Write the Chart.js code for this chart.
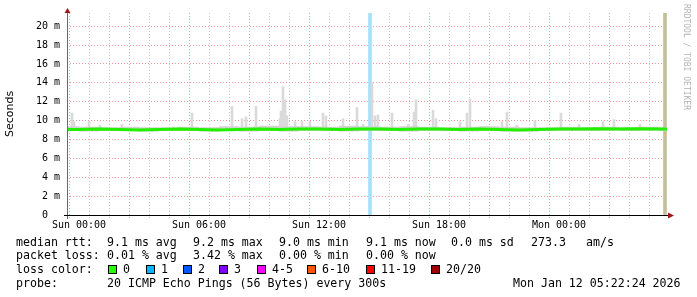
<!DOCTYPE html>
<html>
<head>
<meta charset="utf-8">
<script src="https://cdn.jsdelivr.net/npm/chart.js@4"></script>
<style>
  body { margin: 0; background: #fff; }
  #wrap { position: relative; width: 697px; height: 297px; overflow: hidden; }
  canvas { position: absolute; left: 0; top: 0; }
  .t { position: absolute; font-family: "DejaVu Sans Mono", monospace; font-size: 11.6px; line-height: 14px; white-space: pre; color: #000; }
  .sw { position: absolute; width: 9px; height: 9px; box-sizing: border-box; border: 1px solid #000; }
  #wm { position: absolute; left: 682px; top: 4px; writing-mode: vertical-rl; font-family: "DejaVu Sans Mono", monospace; font-size: 8px; color: #b4b4b4; white-space: pre; }
</style>
</head>
<body>
<div id="wrap">
  <canvas id="smokeChart" width="697" height="297"></canvas>
  <div id="wm">RRDTOOL / TOBI OETIKER</div>

  <div class="t" style="left:16px;top:235px">median rtt:</div>
  <div class="t" style="left:107px;top:235px">9.1 ms avg</div>
  <div class="t" style="left:193px;top:235px">9.2 ms max</div>
  <div class="t" style="left:279px;top:235px">9.0 ms min</div>
  <div class="t" style="left:366px;top:235px">9.1 ms now</div>
  <div class="t" style="left:451px;top:235px">0.0 ms sd</div>
  <div class="t" style="left:531px;top:235px">273.3</div>
  <div class="t" style="left:586px;top:235px">am/s</div>

  <div class="t" style="left:16px;top:248px">packet loss:</div>
  <div class="t" style="left:107px;top:248px">0.01 % avg</div>
  <div class="t" style="left:193px;top:248px">3.42 % max</div>
  <div class="t" style="left:279px;top:248px">0.00 % min</div>
  <div class="t" style="left:366px;top:248px">0.00 % now</div>

  <div class="t" style="left:16px;top:262px">loss color:</div>
  <div id="lossLegend"></div>

  <div class="t" style="left:16px;top:276px">probe:</div>
  <div class="t" style="left:107px;top:276px">20 ICMP Echo Pings (56 Bytes) every 300s</div>
  <div class="t" style="left:513px;top:276px">Mon Jan 12 05:22:24 2026</div>
</div>
<script>
// time axis: hours since Sun 00:00
const tickHours = [0, 6, 12, 18, 24];
const tickLabels = ["Sun 00:00", "Sun 06:00", "Sun 12:00", "Sun 18:00", "Mon 00:00"];

const hours = [-1, 0, 1, 2, 3, 4, 5, 6, 7, 8, 9, 10, 11, 12, 13, 14, 15, 16, 17, 18, 19, 20, 21, 22, 23, 24, 25, 26, 27, 28, 29, 30];
const medianRtt = [9.05, 9.05, 9.1, 9.05, 9.0, 9.05, 9.1, 9.05, 9.0, 9.05, 9.1, 9.05, 9.1, 9.1, 9.05, 9.1,
                   9.1, 9.05, 9.1, 9.1, 9.05, 9.1, 9.05, 9.0, 9.05, 9.1, 9.1, 9.15, 9.1, 9.15, 9.1, 9.1];
const smokeLow = [8.9, 8.85, 8.9, 8.9, 8.85, 8.9, 8.9, 8.85, 8.9, 8.85, 8.9, 8.85, 8.9, 8.9, 8.85, 8.9,
                  8.9, 8.85, 8.9, 8.9, 8.85, 8.9, 8.85, 8.85, 8.9, 8.9, 8.9, 8.95, 8.9, 8.95, 8.9, 8.9];
const smokeHigh = [9.4, 9.35, 9.3, 9.35, 9.3, 9.3, 9.35, 9.3, 9.4, 9.35, 9.45, 9.4, 9.4, 9.35, 9.45, 9.4,
                   9.35, 9.4, 9.35, 9.3, 9.35, 9.4, 9.35, 9.3, 9.3, 9.35, 9.3, 9.35, 9.3, 9.35, 9.3, 9.3];

// individual smoke spikes (single pings well above the median)
const spikeBase = 8.95;
const spikeHours = [-0.35, -0.25, 0.5, 1.05, 2.15, 5.65, 7.65, 8.15, 8.35, 8.85, 10.05, 10.1, 10.2, 10.3, 10.4,
                    10.8, 11.15, 11.55, 12.2, 12.35, 13.2, 13.9, 14.2, 14.65, 14.8, 14.95, 15.65, 16.45, 16.75,
                    16.85, 17.7, 17.85, 19.05, 19.4, 19.55, 21.15, 21.4, 21.9, 22.8, 24.1, 25.0, 26.2, 26.75, 28.05];
const spikeTops = [10.8, 9.9, 9.9, 9.5, 9.6, 10.8, 11.5, 10.2, 10.4, 11.5, 10.2, 11.0, 13.6, 12.2, 10.5,
                   9.9, 9.9, 9.9, 10.8, 10.5, 10.2, 11.4, 9.6, 14.0, 10.5, 10.6, 10.8, 9.6, 10.9,
                   12.2, 11.1, 10.2, 9.9, 10.8, 12.3, 9.9, 10.9, 9.5, 10.0, 10.8, 9.6, 9.9, 10.1, 9.6];

const lossHours = [14.55];
const nowHour = 29.3;
const yMax = 21.4;

const lossLabels = ["0", "1", "2", "3", "4-5", "6-10", "11-19", "20/20"];
const lossColors = ["#26ff00", "#00b8ff", "#0059ff", "#7e00ff", "#ff00ff", "#ff5500", "#ff0000", "#a10000"];
const lossSwatchX = [108, 146, 183, 219, 257, 307, 366, 431];

const legendBox = document.getElementById("lossLegend");
lossLabels.forEach((lab, i) => {
    const sw = document.createElement("div");
    sw.className = "sw";
    sw.style.left = lossSwatchX[i] + "px";
    sw.style.top = "265px";
    sw.style.background = lossColors[i];
    legendBox.appendChild(sw);
    const tx = document.createElement("div");
    tx.className = "t";
    tx.style.left = (lossSwatchX[i] + 15) + "px";
    tx.style.top = "262px";
    tx.textContent = lab;
    legendBox.appendChild(tx);
});

const monoFont = { family: "DejaVu Sans Mono", size: 10 };
const majorGrid = "#ee9a9a";
const minorGrid = "#c8c8c8";

const axisLines = {
    id: "axisLines",
    afterDraw(chart) {
        const { ctx, chartArea: a } = chart;
        ctx.save();
        ctx.lineWidth = 1;
        ctx.strokeStyle = "#6a6a6a";
        ctx.beginPath();
        ctx.moveTo(a.left + 0.5, a.top - 1);
        ctx.lineTo(a.left + 0.5, a.bottom + 4);
        ctx.stroke();
        ctx.strokeStyle = "#000";
        ctx.beginPath();
        ctx.moveTo(a.left - 3, a.bottom + 0.5);
        ctx.lineTo(a.right + 1, a.bottom + 0.5);
        ctx.stroke();
        ctx.fillStyle = "#9a1a1a";
        ctx.beginPath();
        ctx.moveTo(a.left + 0.5, a.top - 5);
        ctx.lineTo(a.left - 2.5, a.top);
        ctx.lineTo(a.left + 3.5, a.top);
        ctx.closePath();
        ctx.fill();
        ctx.beginPath();
        ctx.moveTo(a.right + 7, a.bottom + 0.5);
        ctx.lineTo(a.right + 1, a.bottom - 2.5);
        ctx.lineTo(a.right + 1, a.bottom + 3.5);
        ctx.closePath();
        ctx.fill();
        ctx.restore();
    },
};

new Chart(document.getElementById("smokeChart"), {
    type: "bar",
    data: {
        datasets: [
            {
                type: "bar",
                data: lossHours.map((h) => ({ x: h, y: [0, yMax] })),
                backgroundColor: "#a6e0fa",
                barThickness: 3,
                grouped: false,
                order: 6,
            },
            {
                type: "bar",
                data: [{ x: nowHour, y: [0, yMax] }],
                backgroundColor: "#c4c09c",
                barThickness: 3,
                grouped: false,
                order: 6,
            },
            {
                type: "bar",
                data: spikeHours.map((h, i) => ({ x: h, y: [spikeBase, spikeTops[i]] })),
                backgroundColor: "#dadada",
                barThickness: 2,
                grouped: false,
                order: 5,
            },
            {
                type: "line",
                data: hours.map((h, i) => ({ x: h, y: smokeLow[i] })),
                borderWidth: 0,
                pointRadius: 0,
                stepped: true,
                fill: false,
                order: 4,
            },
            {
                type: "line",
                data: hours.map((h, i) => ({ x: h, y: smokeHigh[i] })),
                borderWidth: 0,
                pointRadius: 0,
                stepped: true,
                fill: "-1",
                backgroundColor: "#d2d2d2",
                order: 4,
            },
            {
                type: "line",
                data: hours.map((h, i) => ({ x: h, y: medianRtt[i] })),
                borderColor: "#22f000",
                borderWidth: 3,
                pointRadius: 0,
                tension: 0,
                order: 1,
            },
        ],
    },
    options: {
        responsive: false,
        animation: false,
        layout: { padding: { top: 13, right: 30, left: 0, bottom: 0 } },
        plugins: { legend: { display: false }, tooltip: { enabled: false } },
        scales: {
            x: {
                type: "linear",
                min: -0.6,
                max: 29.4,
                offset: false,
                afterFit(s) { s.height = 82; },
                afterBuildTicks(s) {
                    const t = [];
                    for (let h = 0; h <= 29; h++) t.push({ value: h });
                    s.ticks = t;
                },
                ticks: {
                    autoSkip: false,
                    maxRotation: 0,
                    padding: 0,
                    color: "#000",
                    font: monoFont,
                    callback: (v) => {
                        const i = tickHours.indexOf(v);
                        return i >= 0 ? tickLabels[i] : "";
                    },
                },
                grid: {
                    color: (c) => (c.tick && c.tick.value % 3 === 0 ? majorGrid : minorGrid),
                    tickColor: (c) => (c.tick && c.tick.value % 3 === 0 ? majorGrid : minorGrid),
                    tickLength: 4,
                    tickBorderDash: [1, 1],
                },
                border: { display: false, dash: [1, 2] },
            },
            y: {
                min: 0,
                max: yMax,
                afterFit(s) { s.width = 67; },
                afterBuildTicks(s) {
                    const t = [];
                    for (let v = 0; v <= 21; v++) t.push({ value: v });
                    s.ticks = t;
                },
                ticks: {
                    padding: 7,
                    color: "#000",
                    font: monoFont,
                    callback: (v) => (v % 2 ? "" : v === 0 ? "0  " : v + " m"),
                },
                grid: {
                    drawTicks: false,
                    color: (c) => (c.tick && c.tick.value % 2 === 0 ? majorGrid : minorGrid),
                },
                border: { display: false, dash: [1, 2] },
                title: {
                    display: true,
                    text: "Seconds",
                    color: "#000",
                    font: { family: "DejaVu Sans", size: 11 },
                    padding: { top: 4, bottom: 0 },
                },
            },
        },
    },
    plugins: [axisLines],
});
</script>
</body>
</html>
